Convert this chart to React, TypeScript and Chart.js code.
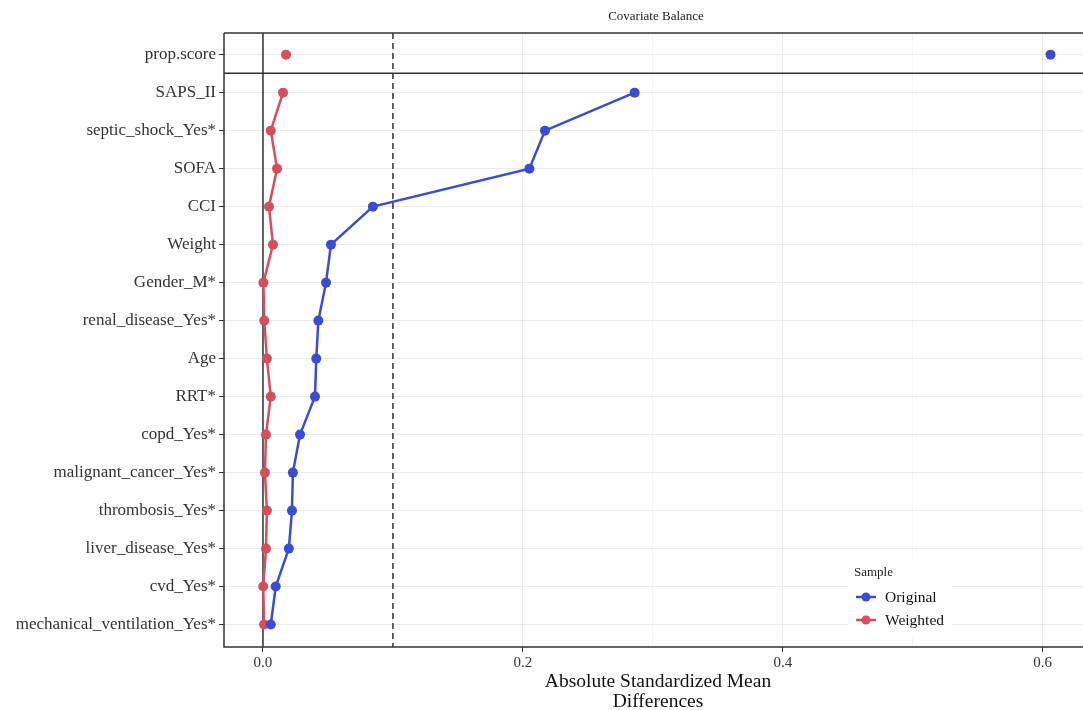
import React, { useEffect, useRef } from "react";
import { Chart, registerables } from "chart.js";

Chart.register(...registerables);

const covariates = [
  "prop.score",
  "SAPS_II",
  "septic_shock_Yes*",
  "SOFA",
  "CCI",
  "Weight",
  "Gender_M*",
  "renal_disease_Yes*",
  "Age",
  "RRT*",
  "copd_Yes*",
  "malignant_cancer_Yes*",
  "thrombosis_Yes*",
  "liver_disease_Yes*",
  "cvd_Yes*",
  "mechanical_ventilation_Yes*",
];

const originalValues = [
  0.606, 0.286, 0.217, 0.205, 0.0846, 0.0523, 0.0485, 0.0426, 0.041, 0.04,
  0.0285, 0.023, 0.0223, 0.0199, 0.0098, 0.006,
];

const weightedValues = [
  0.0177, 0.0154, 0.006, 0.0108, 0.0046, 0.0077, 0.0003, 0.001, 0.003, 0.006,
  0.0023, 0.0015, 0.003, 0.0023, 0.0002, 0.0008,
];

const xTickValues = [0, 0.1, 0.2, 0.3, 0.4, 0.5, 0.6];
const xMajorTicks = [0, 0.2, 0.4, 0.6];
const threshold = 0.1;

const seriesNames = ["Original", "Weighted"];
const seriesColors = ["#3B4CCF", "#D44F5E"];

const FONT = "'Liberation Serif', 'DejaVu Serif', serif";

const decorPlugin = {
  id: "decor",
  beforeDatasetsDraw(chart: any) {
    const { ctx, chartArea, scales } = chart;
    const x = scales.x;
    ctx.save();
    const x0 = x.getPixelForValue(0);
    ctx.strokeStyle = "#222";
    ctx.lineWidth = 1.4;
    ctx.beginPath();
    ctx.moveTo(x0, chartArea.top);
    ctx.lineTo(x0, chartArea.bottom);
    ctx.stroke();
    const xt = x.getPixelForValue(threshold);
    ctx.setLineDash([6, 4]);
    ctx.beginPath();
    ctx.moveTo(xt, chartArea.top);
    ctx.lineTo(xt, chartArea.bottom);
    ctx.stroke();
    ctx.restore();
  },
  afterDraw(chart: any) {
    const { ctx, chartArea, scales } = chart;
    const y = scales.y;
    ctx.save();
    ctx.strokeStyle = "#333";
    ctx.lineWidth = 1.5;
    ctx.beginPath();
    ctx.moveTo(chartArea.left, chartArea.top);
    ctx.lineTo(chartArea.right, chartArea.top);
    ctx.moveTo(chartArea.left, chartArea.top);
    ctx.lineTo(chartArea.left, chartArea.bottom);
    ctx.lineTo(chartArea.right, chartArea.bottom);
    const ySep = y.getPixelForValue(0.49);
    ctx.moveTo(chartArea.left, ySep);
    ctx.lineTo(chartArea.right, ySep);
    ctx.stroke();

    ctx.fillStyle = "#222";
    ctx.font = `13px ${FONT}`;
    ctx.textAlign = "center";
    ctx.textBaseline = "middle";
    ctx.fillText("Covariate Balance", 656, 17);

    ctx.font = `19.5px ${FONT}`;
    ctx.fillStyle = "#111";
    ctx.fillText("Absolute Standardized Mean", 658, 682);
    ctx.fillText("Differences", 658, 702);

    const lx = 848;
    const ly = 560;
    ctx.fillStyle = "#fff";
    ctx.fillRect(lx, ly, 104, 77);
    ctx.fillStyle = "#222";
    ctx.textAlign = "left";
    ctx.font = `13px ${FONT}`;
    ctx.fillText("Sample", 854, 573);
    ctx.font = `15.5px ${FONT}`;
    seriesNames.forEach((name, i) => {
      const cy = 597 + i * 23;
      ctx.strokeStyle = seriesColors[i];
      ctx.lineWidth = 2.5;
      ctx.beginPath();
      ctx.moveTo(856, cy);
      ctx.lineTo(876, cy);
      ctx.stroke();
      ctx.fillStyle = seriesColors[i];
      ctx.beginPath();
      ctx.arc(866, cy, 4.5, 0, Math.PI * 2);
      ctx.fill();
      ctx.fillStyle = "#111";
      ctx.fillText(name, 885, cy + 1);
    });
    ctx.restore();
  },
};

export default function App() {
  const canvasRef = useRef<HTMLCanvasElement | null>(null);

  useEffect(() => {
    if (!canvasRef.current) return;
    const hideFirstSegment = {
      borderColor: (c: any) => (c.p0DataIndex === 0 ? "rgba(0,0,0,0)" : undefined),
    };
    const chart = new Chart(canvasRef.current, {
      type: "line",
      data: {
        datasets: [
          {
            label: seriesNames[0],
            data: originalValues.map((v, i) => ({ x: v, y: i })),
            borderColor: seriesColors[0],
            backgroundColor: seriesColors[0],
            borderWidth: 2.5,
            pointRadius: 5,
            pointBorderWidth: 0,
            segment: hideFirstSegment,
          },
          {
            label: seriesNames[1],
            data: weightedValues.map((v, i) => ({ x: v, y: i })),
            borderColor: seriesColors[1],
            backgroundColor: seriesColors[1],
            borderWidth: 2.5,
            pointRadius: 5,
            pointBorderWidth: 0,
            segment: hideFirstSegment,
          },
        ],
      },
      options: {
        animation: false,
        responsive: false,
        maintainAspectRatio: false,
        devicePixelRatio: 1,
        layout: { padding: { top: 33, left: 0, right: 0, bottom: 0 } },
        plugins: {
          legend: { display: false },
          title: { display: false },
          tooltip: { enabled: false },
        },
        scales: {
          x: {
            type: "linear",
            min: -0.03,
            max: 0.631,
            border: { display: false },
            afterBuildTicks: (scale: any) => {
              scale.ticks = xTickValues.map((v) => ({ value: v }));
            },
            afterFit: (scale: any) => {
              scale.height = 63;
              scale.paddingRight = 0;
              scale.paddingLeft = 0;
            },
            ticks: {
              autoSkip: false,
              maxRotation: 0,
              padding: 2,
              color: "#333",
              font: { family: FONT, size: 15 },
              callback: (v: any) =>
                xMajorTicks.some((m) => Math.abs(m - v) < 1e-9) ? Number(v).toFixed(1) : "",
            },
            grid: {
              color: (c: any) =>
                xMajorTicks.some((m) => Math.abs(m - c.tick?.value) < 1e-9) ? "#EBEBEB" : "#F4F4F4",
              tickColor: (c: any) =>
                xMajorTicks.some((m) => Math.abs(m - c.tick?.value) < 1e-9) ? "#333" : "rgba(0,0,0,0)",
              lineWidth: 1,
              tickLength: 5,
            },
          },
          y: {
            type: "linear",
            reverse: true,
            min: -0.57,
            max: 15.59,
            border: { display: false },
            afterBuildTicks: (scale: any) => {
              scale.ticks = covariates.map((_, i) => ({ value: i }));
            },
            afterFit: (scale: any) => {
              scale.width = 224;
            },
            ticks: {
              autoSkip: false,
              padding: 3,
              color: "#333",
              font: { family: FONT, size: 17 },
              callback: (v: any) => covariates[Math.round(v)] ?? "",
            },
            grid: {
              color: "#EBEBEB",
              tickColor: "#333",
              lineWidth: 1,
              tickLength: 5,
            },
          },
        },
      },
      plugins: [decorPlugin],
    } as any);
    return () => chart.destroy();
  }, []);

  return (
    <div style={{ position: "fixed", left: 0, top: 0, width: 1088, height: 710, background: "#fff", overflow: "hidden" }}>
      <canvas ref={canvasRef} width={1088} height={710} style={{ display: "block", width: 1088, height: 710 }} />
    </div>
  );
}
